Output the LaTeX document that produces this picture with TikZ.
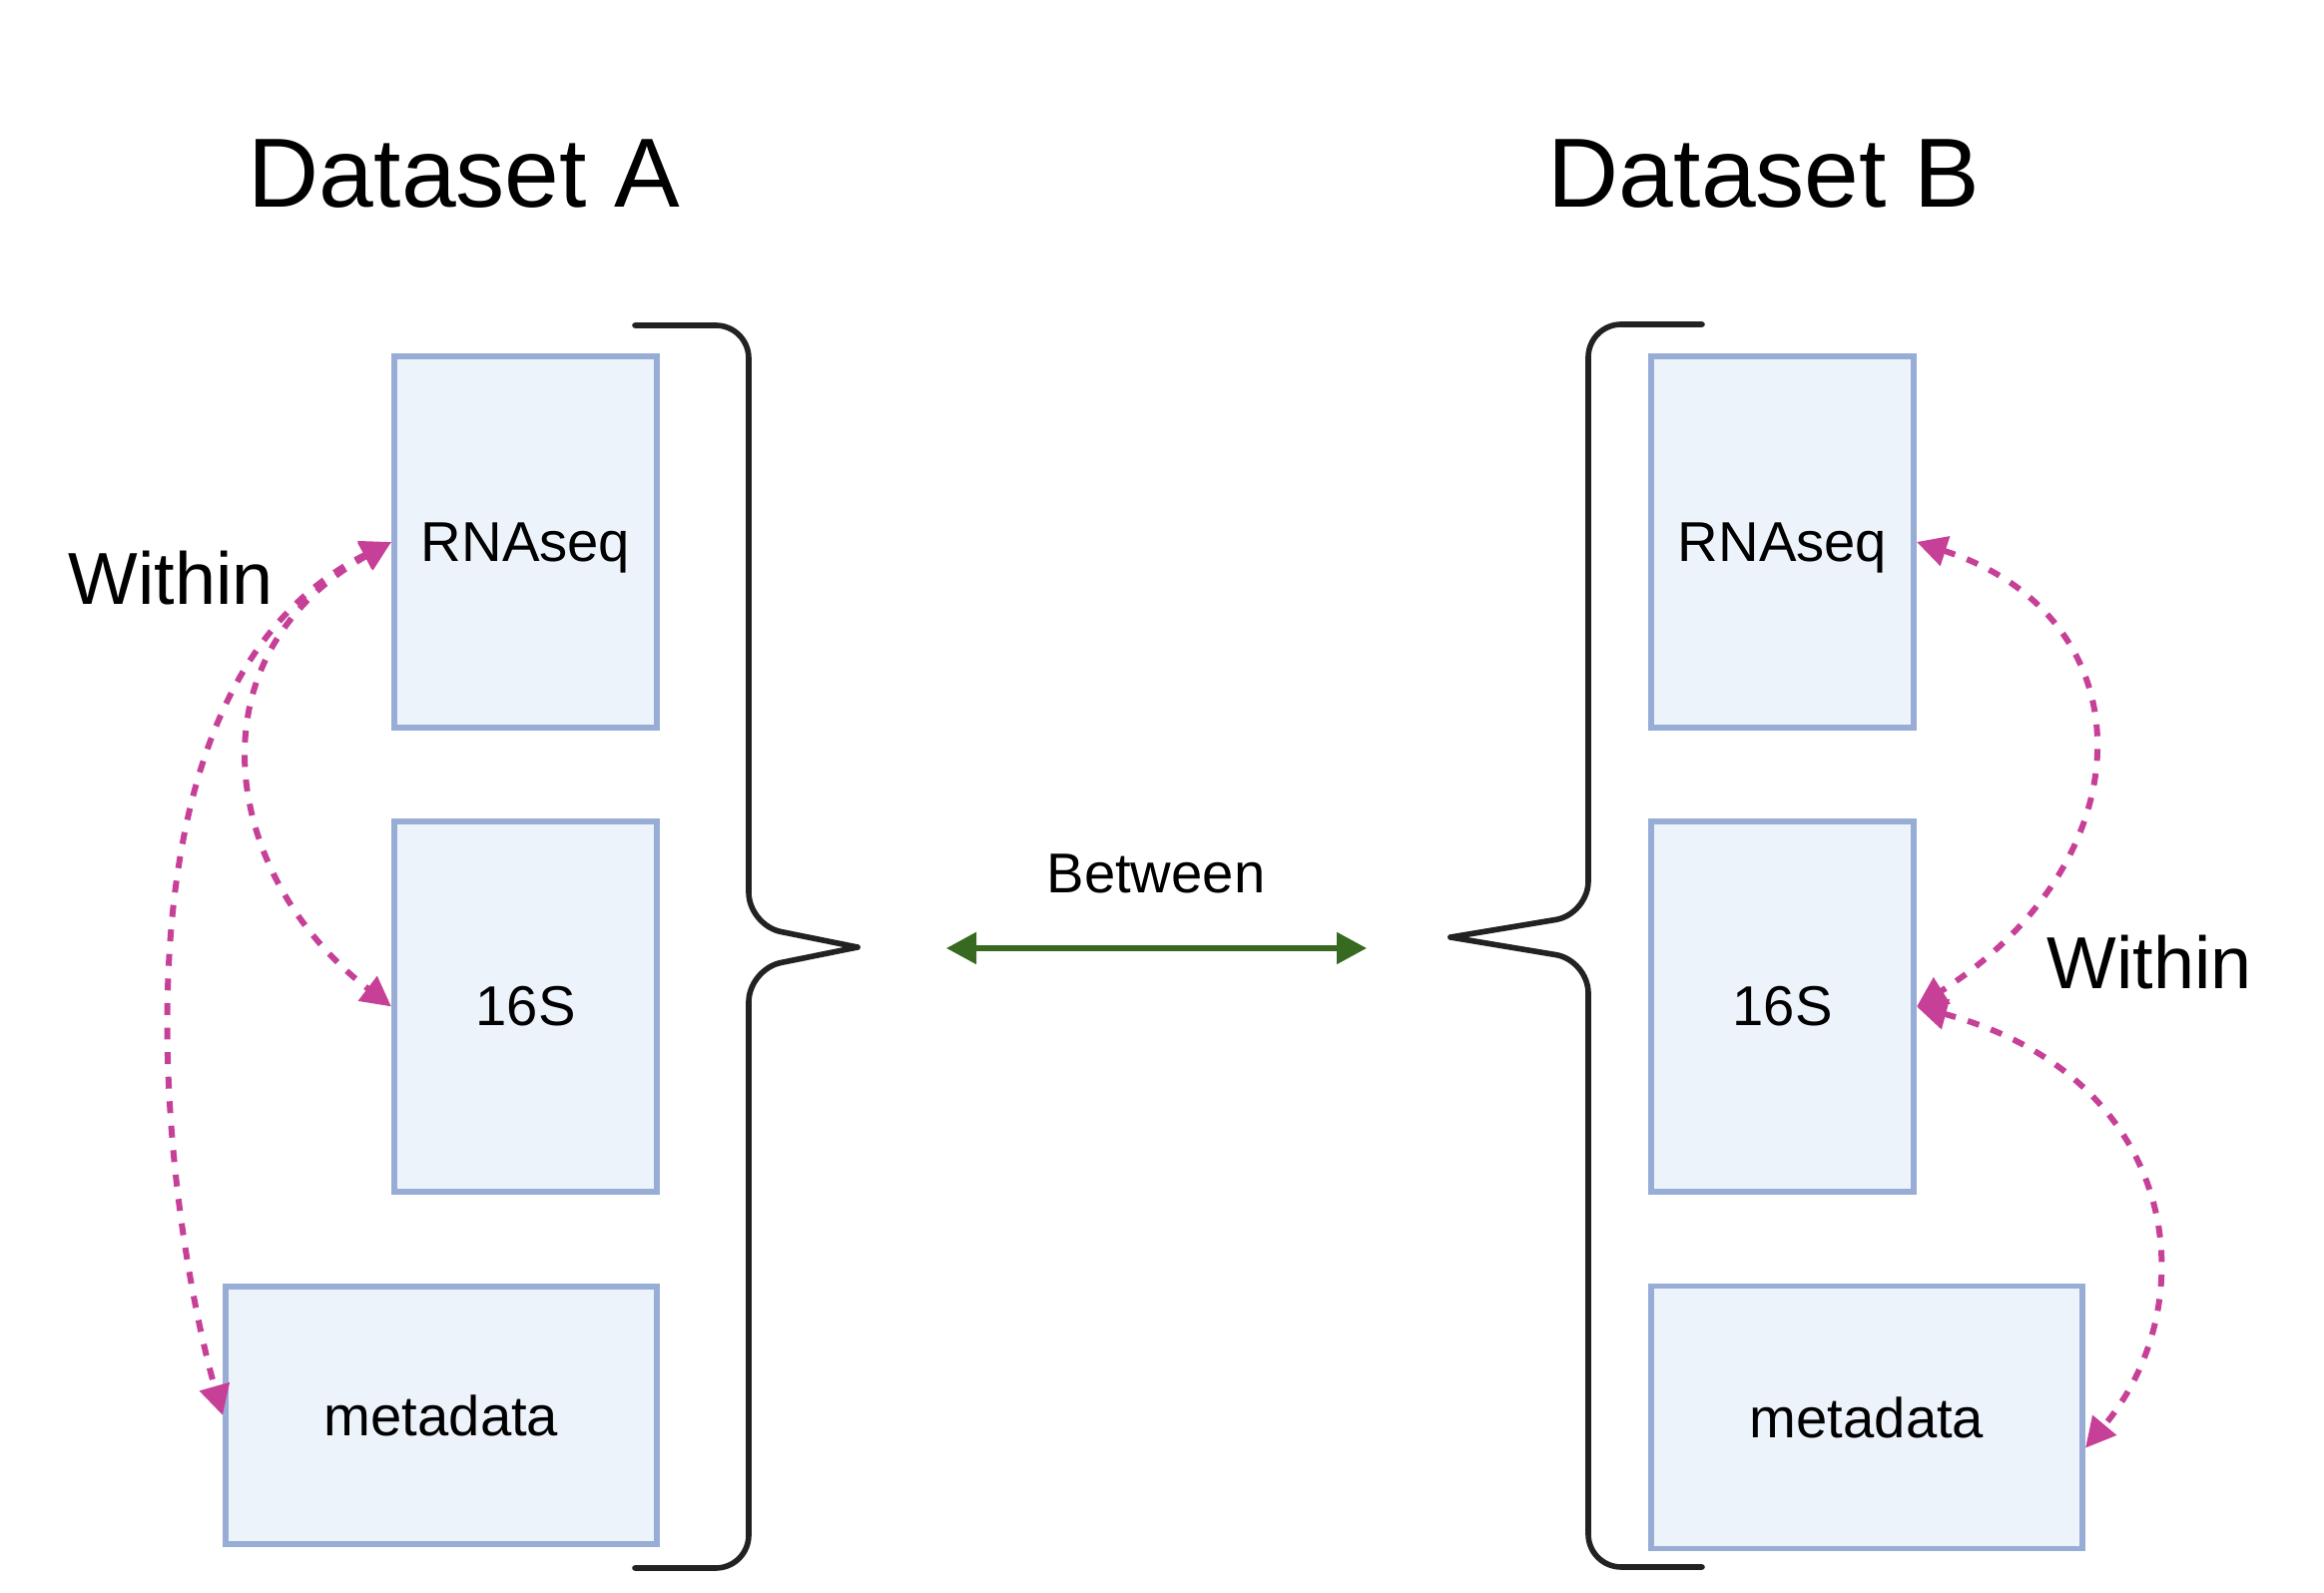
\documentclass[tikz,border=0pt]{standalone}
\usepackage{fontspec}
\setmainfont{Liberation Sans}
\usetikzlibrary{arrows.meta}
\definecolor{boxfill}{HTML}{EDF3FB}
\definecolor{boxline}{HTML}{98ADD6}
\definecolor{withincol}{HTML}{C74098}
\definecolor{betweencol}{HTML}{376920}
\definecolor{bracecol}{HTML}{222222}

\begin{document}
\begin{tikzpicture}[dbox/.style={draw=boxline, fill=boxfill, line width=1.7pt, minimum width=2.63cm, minimum height=3.72cm, font=\fontsize{16}{19}\selectfont},
		dstitle/.style={font=\fontsize{28}{34}\selectfont, anchor=base},
		withinlabel/.style={font=\fontsize{21}{25}\selectfont},
		braceline/.style={draw=bracecol, line width=1.6pt, rounded corners=0.33cm, line cap=round},
		withinarrow/.style={draw=withincol, line width=1.7pt, dash pattern=on 3.4pt off 3.6pt, {Triangle[length=0.3cm,width=0.3cm]}-{Triangle[length=0.3cm,width=0.3cm]}}]
			\useasboundingbox (0,0) rectangle (23.28,15.96);

			\node[dstitle] (titleA) at (4.65,13.88) {Dataset A};
			\node[dstitle] (titleB) at (17.67,13.88) {Dataset B};

			% dataset A
			\node[dbox, text depth=0pt] (rnaA) at (5.265,10.53) {RNAseq};
			\node[dbox, minimum height=3.71cm] (sA) at (5.265,5.875) {16S};
			\node[dbox, minimum width=4.32cm, minimum height=2.58cm] (metaA) at (4.42,1.78) {metadata};

			% dataset B
			\node[dbox, text depth=0pt] (rnaB) at (17.855,10.53) {RNAseq};
			\node[dbox, minimum height=3.71cm] (sB) at (17.855,5.875) {16S};
			\node[dbox, minimum width=4.32cm, minimum height=2.63cm] (metaB) at (18.70,1.76) {metadata};

			% braces
			\draw[braceline] (6.36,12.70) -- (7.50,12.70) -- (7.50,6.69) -- (8.59,6.47);
			\draw[braceline] (8.59,6.47) -- (7.50,6.25) -- (7.50,0.25) -- (6.36,0.25);
			\draw[braceline] (17.05,12.71) -- (15.91,12.71) -- (15.91,6.80) -- (14.53,6.57);
			\draw[braceline] (14.53,6.57) -- (15.91,6.34) -- (15.91,0.26) -- (17.05,0.26);

			% between
			\node[font=\fontsize{16}{19}\selectfont] (between) at (11.58,7.21) {Between};
			\coordinate (betL) at (9.48,6.46);
			\coordinate (betR) at (13.69,6.46);
			\draw[betweencol, line width=1.5pt, {Triangle[length=0.3cm,width=0.31cm]}-{Triangle[length=0.3cm,width=0.31cm]}] (betL) -- (betR);

			% within
			\node[withinlabel] (withinA) at (1.71,10.17) {Within};
			\node[withinlabel] (withinB) at (21.53,6.32) {Within};
			\draw[withinarrow] (rnaA.west) .. controls +(-2.05,-1.15) and +(-1.7,1.30) .. (sA.west);
			\draw[withinarrow] (rnaA.west) .. controls +(-2.95,-1.45) and +(-0.61,2.16) .. (metaA.west);
			\draw[withinarrow] (rnaB.east) .. controls +(2.33,-0.75) and +(2.33,1.48) .. (sB.east);
			\draw[withinarrow] (sB.east) .. controls +(2.63,-0.70) and +(1.24,1.48) .. (metaB.-8);
		\end{tikzpicture}
\end{document}
